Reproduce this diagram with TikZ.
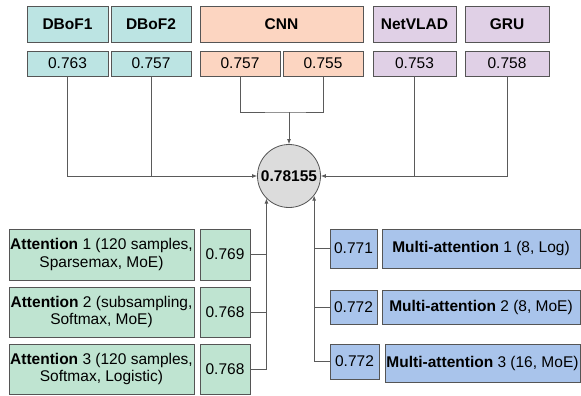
\documentclass[tikz,border=0pt]{standalone}
\usepackage{fontspec}
\setmainfont{Liberation Sans}
\usetikzlibrary{arrows.meta}
\definecolor{cteal}{HTML}{BCE4E3}
\definecolor{cpeach}{HTML}{FCD5C1}
\definecolor{clav}{HTML}{E0D0E6}
\definecolor{cmint}{HTML}{BFE4D1}
\definecolor{cblue}{HTML}{A9C4EB}
\definecolor{cgray}{HTML}{DCDCDC}
\definecolor{cborder}{HTML}{555555}
\definecolor{cline}{HTML}{5A5A5A}
\tikzset{
  box/.style={draw=cborder, line width=0.9pt, inner sep=0pt, align=center,
    font=\fontsize{15.5}{17.3}\selectfont},
  hdr/.style={box, font=\fontsize{15.5}{17.3}\selectfont\bfseries},
  wire/.style={draw=cline, line width=0.8pt},
  conn/.style={wire, -{Latex[length=5pt,width=4pt]}},
}
\begin{document}
\begin{tikzpicture}[x=1pt,y=-1pt]
\useasboundingbox (0,0) rectangle (581,396);
% headers
\node[hdr, fill=cteal, minimum width=81, minimum height=36] (hd1) at (67.5,24) {DBoF1};
\node[hdr, fill=cteal, minimum width=80, minimum height=36] (hd2) at (151,24) {DBoF2};
\node[hdr, fill=cpeach, minimum width=163, minimum height=36] (hcnn) at (281.5,24) {CNN};
\node[hdr, fill=clav, minimum width=83, minimum height=36] (hnv) at (414.5,24) {NetVLAD};
\node[hdr, fill=clav, minimum width=84, minimum height=36] (hgru) at (507,24) {GRU};
% values
\node[box, fill=cteal, minimum width=81, minimum height=25] (v1) at (67.5,63.5) {0.763};
\node[box, fill=cteal, minimum width=80, minimum height=25] (v2) at (151,63.5) {0.757};
\node[box, fill=cpeach, minimum width=80, minimum height=25] (vc1) at (240,63.5) {0.757};
\node[box, fill=cpeach, minimum width=80, minimum height=25] (vc2) at (323,63.5) {0.755};
\node[box, fill=clav, minimum width=83, minimum height=25] (vn) at (414.5,63.5) {0.753};
\node[box, fill=clav, minimum width=84, minimum height=25] (vg) at (507,63.5) {0.758};
% result
\node[draw=cborder, line width=0.8pt, fill=cgray, circle, minimum size=63, inner sep=0pt,
  font=\fontsize{15.5}{17.3}\selectfont\bfseries] (res) at (289,176) {0.78155};
% attention
\node[box, fill=cmint, minimum width=185, minimum height=51] (a1) at (101.5,254.5) {\textbf{Attention} 1 (120 samples,\\Sparsemax, MoE)};
\node[box, fill=cmint, minimum width=185, minimum height=50] (a2) at (101.5,312) {\textbf{Attention} 2 (subsampling,\\Softmax, MoE)};
\node[box, fill=cmint, minimum width=185, minimum height=50] (a3) at (101.5,369) {\textbf{Attention} 3 (120 samples,\\Softmax, Logistic)};
\node[box, fill=cmint, minimum width=50, minimum height=51] (av1) at (225,254.5) {0.769};
\node[box, fill=cmint, minimum width=50, minimum height=50] (av2) at (225,312) {0.768};
\node[box, fill=cmint, minimum width=50, minimum height=50] (av3) at (225,369) {0.768};
% multi-attention
\node[box, fill=cblue, minimum width=47, minimum height=39] (mv1) at (353.5,248.5) {0.771};
\node[box, fill=cblue, minimum width=47, minimum height=34] (mv2) at (353.5,307) {0.772};
\node[box, fill=cblue, minimum width=49, minimum height=35] (mv3) at (354.5,361.5) {0.772};
\node[box, fill=cblue, minimum width=198, minimum height=39] (m1) at (481,248.5) {\textbf{Multi-attention} 1 (8, Log)};
\node[box, fill=cblue, minimum width=198, minimum height=34] (m2) at (481,307) {\textbf{Multi-attention} 2 (8, MoE)};
\node[box, fill=cblue, minimum width=195, minimum height=38] (m3) at (482.5,363) {\textbf{Multi-attention} 3 (16, MoE)};
% connectors top
\draw[conn] (v1.south) |- (res.west);
\draw[wire] (v2.south) -- (v2.south |- res.west);
\coordinate (cm) at (289,112);
\draw[wire] (vc1.south) |- (cm) -| (vc2.south);
\draw[conn] (cm) -- (res.north);
\draw[conn] (vg.south) |- (res.east);
\draw[wire] (vn.south) -- (vn.south |- res.east);
% connectors bottom left
\draw[conn] (av3.east) -| (res.225);
\draw[wire] (av1.east) -- (av1.east -| res.225);
\draw[wire] (av2.east) -- (av2.east -| res.225);
% connectors bottom right
\draw[conn] (mv3.west) -| (res.322);
\draw[wire] (mv1.west) -- (mv1.west -| res.322);
\draw[wire] (mv2.west) -- (mv2.west -| res.322);
\end{tikzpicture}
\end{document}
